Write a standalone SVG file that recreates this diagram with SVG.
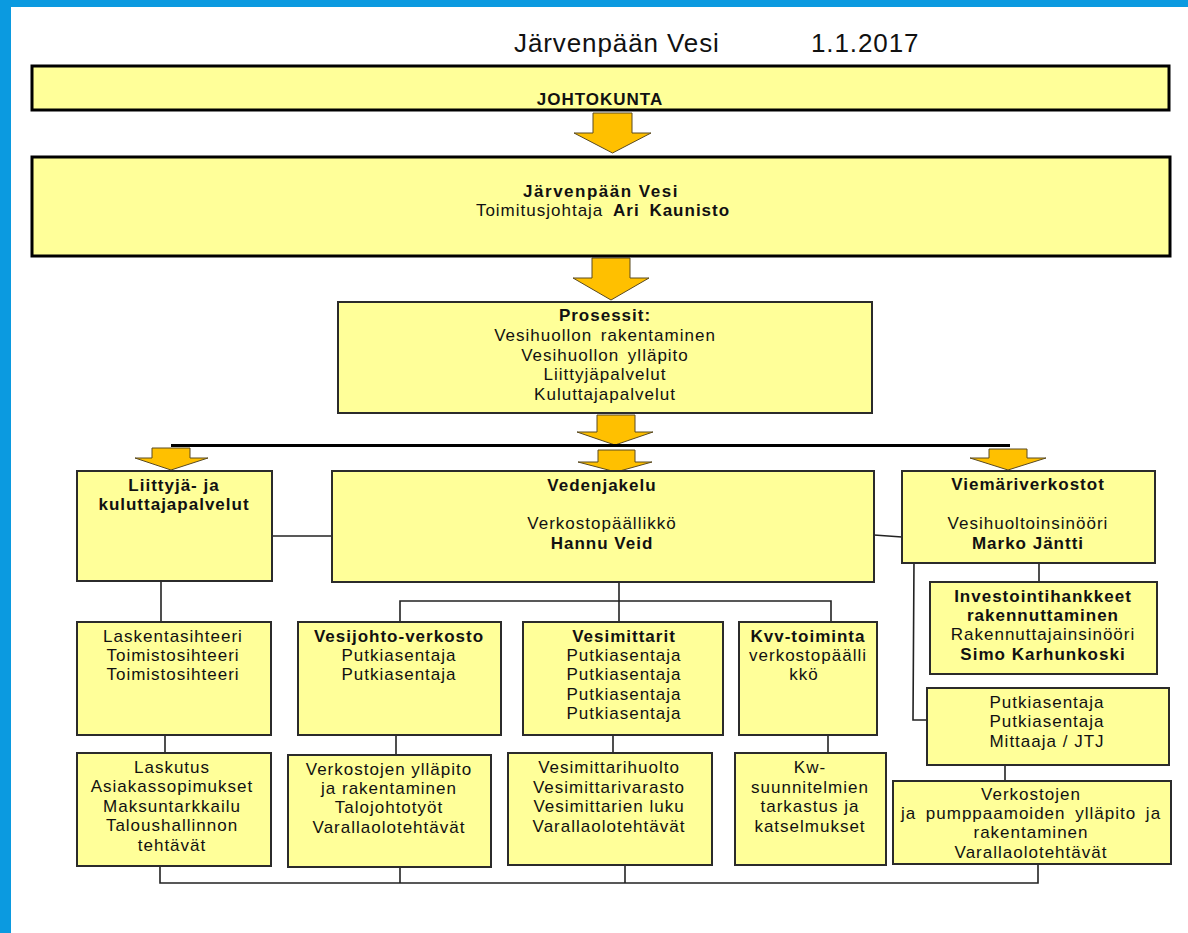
<svg xmlns="http://www.w3.org/2000/svg" width="1188" height="933" viewBox="0 0 1188 933">
<style>
.bg{fill:#ffffff}
.frame{fill:#0b9ae0}
.box{fill:#ffff99;stroke:#2b2b2b;stroke-width:2}
.bigbox{fill:#ffff99;stroke:#000000;stroke-width:3}
.arrow{fill:#ffc000;stroke:#5a4a20;stroke-width:1}
.conn{fill:none;stroke:#222222;stroke-width:1.6}
.thick{fill:none;stroke:#000000;stroke-width:3.2}
text{font-family:"Liberation Sans",Arial,sans-serif;font-size:17px;fill:#111111;text-anchor:middle;letter-spacing:1px}
.b{font-weight:bold}
.title{font-size:26px;letter-spacing:0.9px;text-anchor:start}
</style>
<rect class="bg" x="0" y="0" width="1188" height="933"/>
<rect class="frame" x="0" y="0" width="1188" height="7"/>
<rect class="frame" x="0" y="0" width="11" height="933"/>

<g id="title">
<text class="title" x="514" y="52">Järvenpään Vesi</text>
<text class="title" x="811" y="52">1.1.2017</text>
</g>

<g id="connectors">
<polygon class="arrow" points="593,113 632,113 632,133 651,133 612.5,153 574,133 593,133"/>
<polygon class="arrow" points="592,258 630,258 630,278 649,278 611,300 573,278 592,278"/>
<polygon class="arrow" points="597,415 635,415 635,432 653,432 615,445 577,432 597,432"/>
<line class="thick" x1="171" y1="445.5" x2="1010" y2="445.5"/>
<polygon class="arrow" points="152,448 190,448 190,458 208,458 171,470 135,458 152,458"/>
<polygon class="arrow" points="598,450 635,450 635,462 652,462 616,472 578,462 598,462"/>
<polygon class="arrow" points="989,449 1027,449 1027,458 1046,458 1008,470 970,458 989,458"/>
<line class="conn" x1="272" y1="536" x2="332" y2="536"/>
<line class="conn" x1="874" y1="535" x2="902" y2="537"/>
<line class="conn" x1="161" y1="581" x2="161" y2="622"/>
<polyline class="conn" points="619,582 619,622"/>
<polyline class="conn" points="400,622 400,601 831,601 831,622"/>
<line class="conn" x1="1039" y1="563" x2="1039" y2="582"/>
<polyline class="conn" points="914,560 913,720 928,720"/>
<line class="conn" x1="1005" y1="765" x2="1005" y2="781"/>
<line class="conn" x1="165" y1="735" x2="165" y2="753"/>
<line class="conn" x1="396" y1="735" x2="396" y2="755"/>
<line class="conn" x1="613" y1="735" x2="613" y2="753"/>
<line class="conn" x1="828" y1="735" x2="828" y2="753"/>
<polyline class="conn" points="160,866 160,883 1038,883 1038,864"/>
<line class="conn" x1="400" y1="867" x2="400" y2="883"/>
<line class="conn" x1="625" y1="865" x2="625" y2="883"/>
</g>

<g id="johtokunta">
<rect class="bigbox" x="32" y="66" width="1137" height="44"/>
<text class="b" x="600" y="105">JOHTOKUNTA</text>
</g>

<g id="jarvenpaan-vesi">
<rect class="bigbox" x="32" y="157" width="1138" height="99"/>
<text class="b" x="601" y="197" style="letter-spacing:1.5px">Järvenpään Vesi</text>
<text x="603" y="216" style="word-spacing:4px">Toimitusjohtaja <tspan class="b">Ari Kaunisto</tspan></text>
</g>

<g id="prosessit">
<rect class="box" x="338" y="302" width="534" height="111"/>
<text class="b" x="605" y="321">Prosessit:</text>
<text x="605" y="341" style="word-spacing:3px">Vesihuollon rakentaminen</text>
<text x="605" y="361" style="word-spacing:3px">Vesihuollon ylläpito</text>
<text x="605" y="380">Liittyjäpalvelut</text>
<text x="605" y="400">Kuluttajapalvelut</text>
</g>

<g id="liittyja">
<rect class="box" x="77" y="471" width="195" height="110"/>
<text class="b" x="174" y="491">Liittyjä- ja</text>
<text class="b" x="174" y="510">kuluttajapalvelut</text>
</g>

<g id="vedenjakelu">
<rect class="box" x="332" y="471" width="542" height="111"/>
<text class="b" x="602" y="491">Vedenjakelu</text>
<text x="602" y="529">Verkostopäällikkö</text>
<text class="b" x="602" y="549">Hannu Veid</text>
</g>

<g id="viemariverkostot">
<rect class="box" x="902" y="471" width="253" height="92"/>
<text class="b" x="1028" y="490">Viemäriverkostot</text>
<text x="1028" y="529">Vesihuoltoinsinööri</text>
<text class="b" x="1028" y="549">Marko Jäntti</text>
</g>

<g id="laskentasihteeri">
<rect class="box" x="77" y="622" width="194" height="113"/>
<text x="173" y="642">Laskentasihteeri</text>
<text x="173" y="661">Toimistosihteeri</text>
<text x="173" y="680">Toimistosihteeri</text>
</g>

<g id="vesijohto-verkosto">
<rect class="box" x="298" y="622" width="203" height="113"/>
<text class="b" x="399" y="642">Vesijohto-verkosto</text>
<text x="399" y="661">Putkiasentaja</text>
<text x="399" y="680">Putkiasentaja</text>
</g>

<g id="vesimittarit">
<rect class="box" x="523" y="622" width="200" height="113"/>
<text class="b" x="624" y="642">Vesimittarit</text>
<text x="624" y="661">Putkiasentaja</text>
<text x="624" y="680">Putkiasentaja</text>
<text x="624" y="700">Putkiasentaja</text>
<text x="624" y="719">Putkiasentaja</text>
</g>

<g id="kvv-toiminta">
<rect class="box" x="739" y="622" width="138" height="113"/>
<text class="b" x="808" y="642">Kvv-toiminta</text>
<text x="808" y="661">verkostopäälli</text>
<text x="804" y="680">kkö</text>
</g>

<g id="investointihankkeet">
<rect class="box" x="930" y="582" width="227" height="92"/>
<text class="b" x="1043" y="602">Investointihankkeet</text>
<text class="b" x="1043" y="621">rakennuttaminen</text>
<text x="1043" y="640">Rakennuttajainsinööri</text>
<text class="b" x="1043" y="660">Simo Karhunkoski</text>
</g>

<g id="viemari-putkiasentajat">
<rect class="box" x="927" y="688" width="242" height="77"/>
<text x="1047" y="708">Putkiasentaja</text>
<text x="1047" y="727">Putkiasentaja</text>
<text x="1047" y="747">Mittaaja / JTJ</text>
</g>

<g id="viemari-tehtavat">
<rect class="box" x="893" y="781" width="278" height="83"/>
<text x="1031" y="800">Verkostojen</text>
<text x="1031" y="819" style="word-spacing:4px">ja pumppaamoiden ylläpito ja</text>
<text x="1031" y="838">rakentaminen</text>
<text x="1031" y="858">Varallaolotehtävät</text>
</g>

<g id="laskutus">
<rect class="box" x="77" y="753" width="194" height="113"/>
<text x="172" y="773">Laskutus</text>
<text x="172" y="792">Asiakassopimukset</text>
<text x="172" y="812">Maksuntarkkailu</text>
<text x="172" y="831">Taloushallinnon</text>
<text x="172" y="851">tehtävät</text>
</g>

<g id="vesijohto-tehtavat">
<rect class="box" x="288" y="755" width="203" height="112"/>
<text x="389" y="775">Verkostojen ylläpito</text>
<text x="389" y="794">ja rakentaminen</text>
<text x="389" y="813">Talojohtotyöt</text>
<text x="389" y="833">Varallaolotehtävät</text>
</g>

<g id="vesimittari-tehtavat">
<rect class="box" x="508" y="753" width="204" height="112"/>
<text x="609" y="773">Vesimittarihuolto</text>
<text x="609" y="793">Vesimittarivarasto</text>
<text x="609" y="812">Vesimittarien luku</text>
<text x="609" y="832">Varallaolotehtävät</text>
</g>

<g id="kvv-tehtavat">
<rect class="box" x="735" y="753" width="151" height="112"/>
<text x="810" y="773">Kw-</text>
<text x="810" y="793">suunnitelmien</text>
<text x="810" y="812">tarkastus ja</text>
<text x="810" y="832">katselmukset</text>
</g>
</svg>
